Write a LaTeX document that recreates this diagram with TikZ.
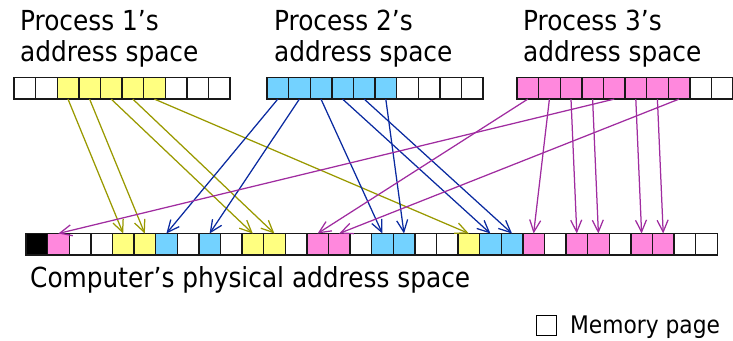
\documentclass[tikz,border=0pt]{standalone}
\usepackage{fontspec}
\IfFontExistsTF{DejaVu Sans Condensed}
  {\setmainfont{DejaVu Sans Condensed}}
  {\setmainfont{DejaVu Sans}[FakeStretch=0.9]}
\usetikzlibrary{arrows.meta}

\definecolor{pgyellow}{HTML}{FFFF80}
\definecolor{pgblue}{HTML}{73D2FF}
\definecolor{pgpink}{HTML}{FF88DD}
\definecolor{arryellow}{HTML}{999900}
\definecolor{arrblue}{HTML}{0A2AA0}
\definecolor{arrpink}{HTML}{A02CA0}

\tikzset{
  page/.style={draw=black!90, line width=1.4pt, minimum width=21.6pt,
    minimum height=21.6pt, inner sep=0pt, outer sep=0pt, anchor=north west},
  title/.style={anchor=base west, inner sep=0pt, font=\fontsize{27.6}{31}\selectfont},
  map/.style={line width=1.25pt,
    -{Straight Barb[length=12pt,width=11pt,line width=1.25pt]}},
  mapyellow/.style={map, draw=arryellow},
  mapblue/.style={map, draw=arrblue},
  mappink/.style={map, draw=arrpink},
}

\begin{document}
\begin{tikzpicture}[x=1pt,y=-1pt]
\path[use as bounding box] (0,0) rectangle (733,340);

% titles of the three process address spaces
\node[title] (t1a) at (20,30) {Process 1’s};
\node[title] (t1b) at (20,61) {address space};
\node[title] (t2a) at (274,30) {Process 2’s};
\node[title] (t2b) at (274,61) {address space};
\node[title] (t3a) at (523,30) {Process 3’s};
\node[title] (t3b) at (523,61) {address space};

% virtual pages of each process
\foreach \c [count=\i from 0] in {white,white,pgyellow,pgyellow,pgyellow,pgyellow,pgyellow,white,white,white}
  \node[page,fill=\c] (p1c\i) at ({14+21.6*\i},77.5) {};
\foreach \c [count=\i from 0] in {pgblue,pgblue,pgblue,pgblue,pgblue,pgblue,white,white,white,white}
  \node[page,fill=\c] (p2c\i) at ({267+21.6*\i},77.5) {};
\foreach \c [count=\i from 0] in {pgpink,pgpink,pgpink,pgpink,pgpink,pgpink,pgpink,pgpink,white,white}
  \node[page,fill=\c] (p3c\i) at ({517+21.6*\i},77.5) {};

% physical memory frames
\foreach \c [count=\i from 0] in {black,pgpink,white,white,pgyellow,pgyellow,pgblue,white,pgblue,white,
    pgyellow,pgyellow,white,pgpink,pgpink,white,pgblue,pgblue,white,white,
    pgyellow,pgblue,pgblue,pgpink,white,pgpink,pgpink,white,pgpink,pgpink,white,white}
  \node[page,fill=\c] (m\i) at ({26+21.6*\i},233.5) {};

\node[title] (phys) at (30,287) {Computer’s physical address space};

% legend
\node[draw=black, line width=1pt, minimum size=20pt, inner sep=0pt, anchor=north west] (legend) at (536,314.5) {};
\node[anchor=base west, inner sep=0pt, font=\fontsize{24.2}{28}\selectfont] (legendtext) at (570,333) {Memory page};

% page mappings
\foreach \a/\b in {2/4,3/5,4/10,5/11,6/20}
  \draw[mapyellow] (p1c\a.south) -- (m\b.north);
\foreach \a/\b in {0/6,1/8,2/16,3/21,4/22,5/17}
  \draw[mapblue] (p2c\a.south) -- (m\b.north);
\foreach \a/\b in {0/13,1/23,2/25,3/26,4/1,5/28,6/29,7/14}
  \draw[mappink] (p3c\a.south) -- (m\b.north);
\end{tikzpicture}
\end{document}
